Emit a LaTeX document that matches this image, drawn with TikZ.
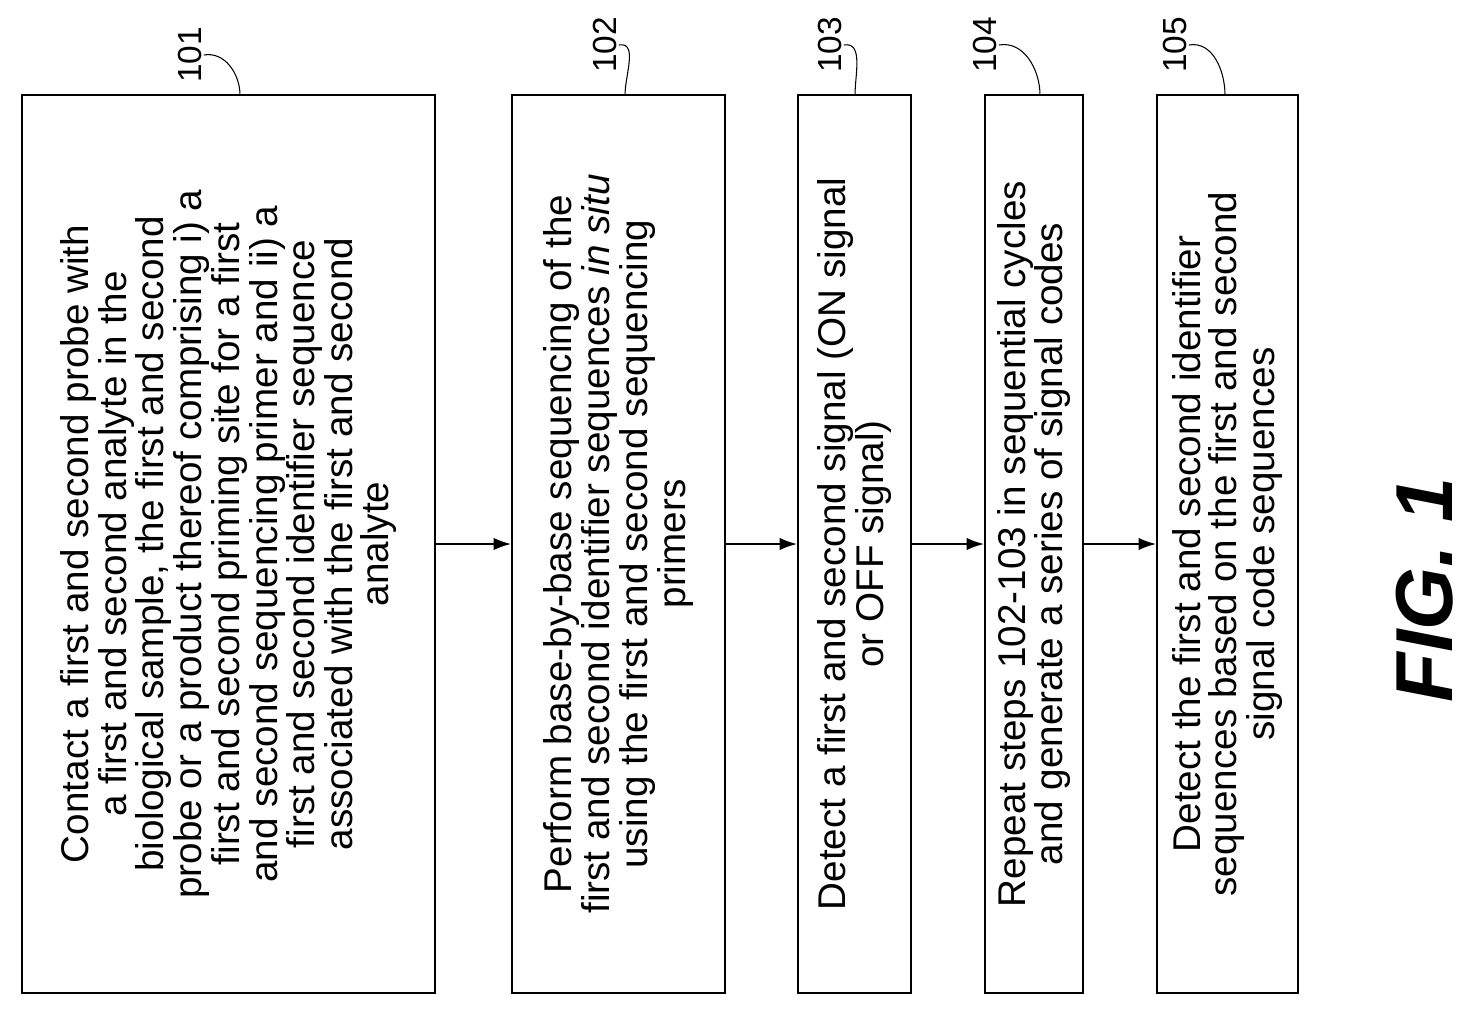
\documentclass[tikz,border=0pt]{standalone}
\usepackage{fontspec}
\setmainfont{Liberation Sans}
\usetikzlibrary{arrows.meta}

\tikzset{
  stage/.style={draw,line width=1.1pt,rotate=90,align=center,inner sep=0pt,
    font=\fontsize{22}{20.5}\selectfont},
  ref/.style={rotate=90,inner sep=1pt,font=\fontsize{19}{20}\selectfont},
  flow/.style={-{Latex[length=3.5mm,width=2.5mm]},line width=1pt},
  lead/.style={line width=0.6pt}
}

\begin{document}
\begin{tikzpicture}
\useasboundingbox (0,0) rectangle (29.64,-20.34);

% stages
\node[stage,minimum width=17.96cm,minimum height=8.26cm] (s1) at (4.57,-10.88)
  {Contact a first and second probe with\\ a first and second analyte in the\\ biological sample, the first and second\\ probe or a product thereof comprising i) a\\ first and second priming site for a first\\ and second sequencing primer and ii) a\\ first and second identifier sequence\\ associated with the first and second\\ analyte};
\node[stage,minimum width=17.96cm,minimum height=4.26cm] (s2) at (12.37,-10.88)
  {Perform base-by-base sequencing of the\\ first and second identifier sequences \emph{in situ}\\ using the first and second sequencing\\ primers};
\node[stage,minimum width=17.96cm,minimum height=2.26cm] (s3) at (17.09,-10.88)
  {Detect a first and second signal (ON signal\\ or OFF signal)};
\node[stage,minimum width=17.96cm,minimum height=1.96cm] (s4) at (20.68,-10.88)
  {Repeat steps 102-103 in sequential cycles\\ and generate a series of signal codes};
\node[stage,minimum width=17.96cm,minimum height=2.82cm] (s5) at (24.55,-10.88)
  {Detect the first and second identifier\\ sequences based on the first and second\\ signal code sequences};

\draw[flow] (s1.south) -- (s2.north);
\draw[flow] (s2.south) -- (s3.north);
\draw[flow] (s3.south) -- (s4.north);
\draw[flow] (s4.south) -- (s5.north);

% reference numerals
\node[ref] (r1) at (3.80,-1.10) {101};
\node[ref] (r2) at (12.10,-0.90) {102};
\node[ref] (r3) at (16.60,-0.90) {103};
\node[ref] (r4) at (19.70,-0.90) {104};
\node[ref] (r5) at (23.50,-0.90) {105};
\coordinate (t1) at (4.80,-1.90);
\coordinate (t2) at (12.50,-1.90);
\coordinate (t3) at (17.10,-1.90);
\coordinate (t4) at (20.80,-1.90);
\coordinate (t5) at (24.50,-1.90);
\foreach \i in {1,...,5}
  \draw[lead] (r\i.south) to[out=10,in=90] (t\i);

\node[rotate=90,font=\fontsize{46}{48}\selectfont\bfseries\itshape] (fig) at (28.50,-11.80) {FIG. 1};
\end{tikzpicture}
\end{document}
